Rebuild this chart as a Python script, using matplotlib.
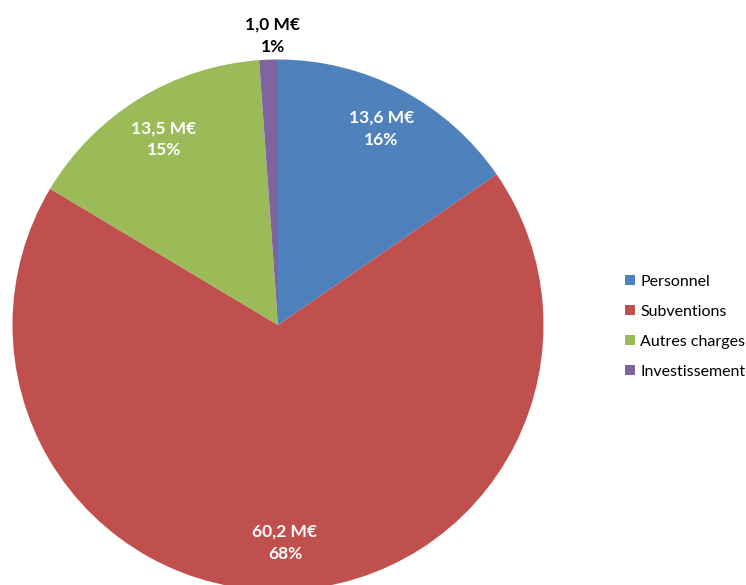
import matplotlib
matplotlib.use("Agg")
import matplotlib.pyplot as plt
from matplotlib.patches import Patch
import numpy as np

plt.rcParams['font.family'] = ['Lato', 'DejaVu Sans']

categories = ["Personnel", "Subventions", "Autres charges", "Investissement"]
values = [13.6, 60.2, 13.5, 1.0]
value_labels = ["13,6 M€", "60,2 M€", "13,5 M€", "1,0 M€"]
pct_labels = ["16%", "68%", "15%", "1%"]
colors = ["#4F81BD", "#C0504D", "#9BBB59", "#8064A2"]

W, H = 746, 585
fig = plt.figure(figsize=(W / 100, H / 100), dpi=100)
cx, cy, r = 278, 325, 265.5
ax = fig.add_axes([(cx - r) / W, (H - cy - r) / H, 2 * r / W, 2 * r / H])

wedges, _ = ax.pie(values, colors=colors, startangle=90, counterclock=False,
                   radius=1.0, wedgeprops=dict(linewidth=0, edgecolor='none'))
ax.set_xlim(-1, 1)
ax.set_ylim(-1, 1)
ax.set_aspect('equal')
ax.axis('off')

label_r = [0.835, 0.82, 0.82, 1.09]
for i, w in enumerate(wedges):
    ang = np.deg2rad((w.theta1 + w.theta2) / 2)
    x = label_r[i] * np.cos(ang)
    y = label_r[i] * np.sin(ang)
    col = 'black' if i == 3 else 'white'
    if i == 3:
        x = -0.02
    ax.text(x, y, value_labels[i] + "\n" + pct_labels[i], ha='center', va='center',
            color=col, fontsize=12.5, fontweight='bold', linespacing=1.45)

handles = [Patch(facecolor=c, edgecolor='none') for c in colors]
fig.legend(handles, categories, loc='center left', bbox_to_anchor=(625 / W, 1 - 327 / H),
           frameon=False, fontsize=11.5, handlelength=0.6, handleheight=0.6,
           handletextpad=0.35, labelspacing=1.0, borderaxespad=0, borderpad=0)

fig.savefig("out.png", dpi=100)
